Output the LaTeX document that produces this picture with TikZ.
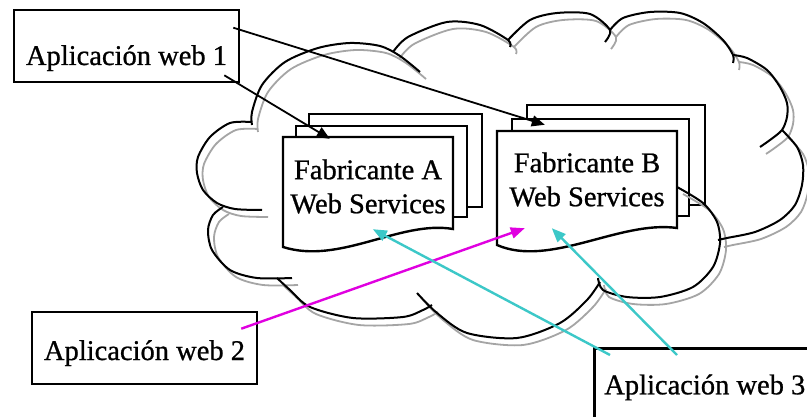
\documentclass[tikz,border=0pt]{standalone}
\usepackage{fontspec}
\setmainfont[FakeBold=0.8]{Liberation Serif}
\newfontfamily\heavyserif[FakeBold=0.8]{Liberation Serif}
\usetikzlibrary{arrows.meta,calc}
\definecolor{magline}{RGB}{224,0,224}
\definecolor{cyanline}{RGB}{60,200,200}
\definecolor{shadeline}{RGB}{165,165,165}
\newcommand\mycloud[1]{%
  \draw[#1] plot[smooth] coordinates {(252,125) (252,112) (262,85) (285,62) (318,48) (350,43) (380,46) (400,56) (420,72)};
  \draw[#1] plot[smooth] coordinates {(393,52) (408,37) (447,22) (480,25) (508,40) (510,47)};
  \draw[#1] plot[smooth] coordinates {(508,40) (530,20) (557,13) (590,14) (610,30) (605,42)};
  \draw[#1] plot[smooth] coordinates {(610,30) (623,18) (650,12) (680,13) (703,23) (723,40) (733,55) (733,63)};
  \draw[#1] plot[smooth] coordinates {(733,55) (747,58) (767,70) (780,87) (787,103) (787,117) (782,130) (770,140) (760,147)};
  \draw[#1] plot[smooth] coordinates {(782,130) (797,147) (803,165) (802,185) (795,205) (780,220) (755,232) (727,238) (718,240)};
  \draw[#1] plot[smooth] coordinates {(677,187) (703,203) (717,222) (720,243) (713,267) (693,287) (660,297) (627,297) (603,290) (598,278)};
  \draw[#1] plot[smooth] coordinates {(600,282) (587,300) (560,323) (517,338) (467,333) (437,313) (417,293)};
  \draw[#1] plot[smooth] coordinates {(277,278) (290,290) (310,307) (353,318) (403,317) (423,310) (432,305)};
  \draw[#1] plot[smooth] coordinates {(223,207) (213,215) (208,230) (212,250) (230,270) (257,278) (292,278)};
  \draw[#1] plot[smooth] coordinates {(252,122) (230,123) (210,137) (198,157) (197,173) (203,190) (217,203) (235,209) (262,210)};
}
\begin{document}
\begin{tikzpicture}[x=1pt,y=-1pt,
  txt/.style={font=\heavyserif\fontsize{28.5}{34}\selectfont},
  appbox/.style={txt,draw=black,line width=2.6pt,fill=white,inner sep=0pt,
    minimum width=225pt,minimum height=72pt},
  docpage/.style={draw=black,line width=2.4pt,fill=white},
  doctext/.style={txt,align=center,inner sep=0pt,draw=none},
  cloudline/.style={draw=black,line width=2pt},
  cloudshade/.style={draw=shadeline,line width=1.8pt},
  blackarrow/.style={draw=black,line width=1.8pt,-{Triangle[length=13pt,width=11pt]}},
  magarrow/.style={draw=magline,line width=2.4pt,-{Triangle[length=14pt,width=11pt]}},
  cyanarrow/.style={draw=cyanline,line width=2.4pt,-{Triangle[length=14pt,width=11pt]}}]
\useasboundingbox (0,0) rectangle (807,417);
\clip (0,0) rectangle (807,417);
\fill[white] (0,0) rectangle (807,417);

% Fabricante A document stack
\draw[docpage] (309,114) rectangle (482,207);
\draw[docpage] (296,126) rectangle (467,217);
\draw[docpage] (283,137) -- (453,137) -- (453,229) .. controls (400,220) and (340,265) .. (283,247) -- cycle;
% Fabricante B document stack
\draw[docpage] (527,105) rectangle (705,205);
\draw[docpage] (512,119) rectangle (689,216);
\draw[docpage] (497,131) -- (677,131) -- (677,228) .. controls (620,220) and (550,268) .. (497,245) -- cycle;

\node[doctext,minimum width=170pt,minimum height=93pt] (docA) at (368,186.5) {Fabricante A\\Web Services};
\node[doctext,minimum width=180pt,minimum height=97pt] (docB) at (587,179.5) {Fabricante B\\Web Services};

% cloud
\begin{scope}[shift={(6,7)}]
  \mycloud{cloudshade}
\end{scope}
\mycloud{cloudline}

% application boxes
\node[appbox,text height=44pt,text depth=6pt] (web1) at (126.5,46) {Aplicación web 1};
\node[appbox,text height=30pt,text depth=6pt] (web2) at (144.5,348) {Aplicación web 2};
\node[appbox,anchor=north west,minimum width=221pt,minimum height=76pt,text height=22pt,text depth=6pt] (web3) at (593,347) {Aplicación web 3};

% connectors
\draw[blackarrow] ($(web1.north east)+(-7,19)$) -- ($(docB.north west)+(48,-6)$);
\draw[blackarrow] ($(web1.south east)+(-16,-8)$) -- ($(docA.north west)+(47,-1)$);
\draw[magarrow] ($(web2.north east)+(-17,18)$) -- ($(docB.south west)+(28,0)$);
\draw[cyanarrow] ($(web3.north west)+(17,8)$) -- ($(docA.south west)+(90,-4)$);
\draw[cyanarrow] ($(web3.north west)+(84,8)$) -- ($(docB.south west)+(55,0)$);
\end{tikzpicture}
\end{document}
